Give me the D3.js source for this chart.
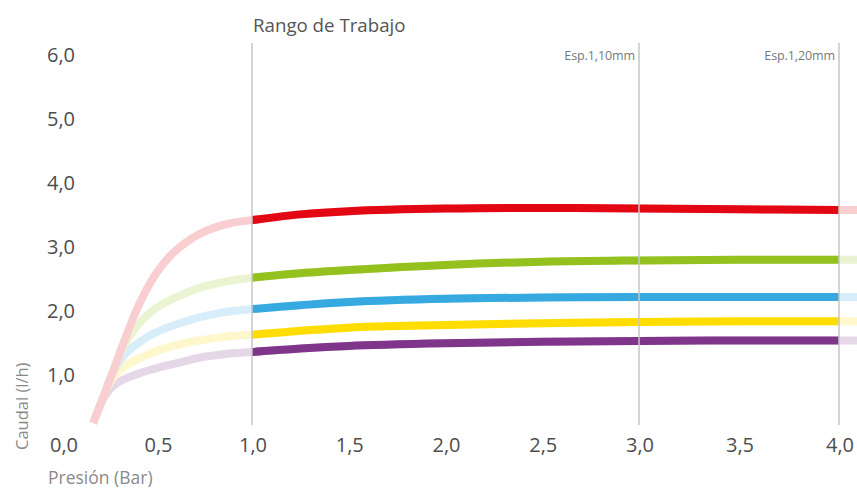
<!DOCTYPE html>
<html><head><meta charset="utf-8">
<script src="https://cdn.jsdelivr.net/npm/d3@7/dist/d3.min.js"></script>
<style>body{margin:0;background:#fff}svg{display:block}text{font-family:"Open Sans",sans-serif}</style>
</head><body><svg id="c" width="857" height="488"></svg>
<script>
const pressure     = [0.16,0.22,0.27,0.32,0.39,0.45,0.51,0.58,0.65,0.72,0.81,0.90,1.00,1.25,1.50,2.00,2.50,3.00,3.50,4.00,4.10];
const redSeries    = [0.25,0.71,1.10,1.50,2.02,2.38,2.66,2.90,3.07,3.20,3.31,3.38,3.42,3.51,3.56,3.60,3.61,3.60,3.59,3.58,3.58];
const greenSeries  = [0.25,0.71,1.10,1.44,1.76,1.95,2.08,2.19,2.28,2.36,2.43,2.48,2.52,2.59,2.64,2.72,2.77,2.79,2.80,2.80,2.80];
const blueSeries   = [0.25,0.71,1.08,1.30,1.48,1.60,1.69,1.77,1.84,1.90,1.96,2.00,2.03,2.09,2.14,2.19,2.21,2.22,2.22,2.22,2.22];
const yellowSeries = [0.25,0.71,0.98,1.12,1.24,1.32,1.39,1.45,1.50,1.54,1.58,1.61,1.63,1.69,1.74,1.78,1.81,1.83,1.84,1.84,1.84];
const purpleSeries = [0.25,0.66,0.84,0.93,1.01,1.07,1.12,1.17,1.22,1.27,1.31,1.34,1.36,1.415,1.455,1.495,1.52,1.53,1.54,1.54,1.54];
const xTicks = [0,0.5,1,1.5,2,2.5,3,3.5,4];
const xTickLabels = ["0,0","0,5","1,0","1,5","2,0","2,5","3,0","3,5","4,0"];
const yTicks = [1,2,3,4,5,6];
const yTickLabels = ["1,0","2,0","3,0","4,0","5,0","6,0"];
const refLines = [1,3,4];
const refLabels = ["Rango de Trabajo","Esp.1,10mm","Esp.1,20mm"];
const workRange = [1,4];

const series = [
  {v: purpleSeries, c: "#7f358a", l: "#e6d7e8"},
  {v: yellowSeries, c: "#ffdd00", l: "#fff7cc"},
  {v: blueSeries,   c: "#36a9e1", l: "#d7edf9"},
  {v: greenSeries,  c: "#95c11f", l: "#eaf3d2"},
  {v: redSeries,    c: "#e30613", l: "#f9ced1"}
];

const svg = d3.select("#c");
const x = d3.scaleLinear().domain([0,1,3,4]).range([63,252,639,839]);
const y = d3.scaleLinear().domain([0,6]).range([439,55]);

const line = d3.line().x((d,i)=>x(pressure[i])).y(d=>y(d)).curve(d3.curveCatmullRom.alpha(0.5));

svg.append("defs").append("clipPath").attr("id","work")
  .append("rect").attr("x",x(workRange[0])).attr("y",0)
  .attr("width",x(workRange[1])-x(workRange[0])).attr("height",488);

const gl = svg.append("g");
series.forEach(s=>{
  gl.append("path").attr("d",line(s.v)).attr("fill","none")
    .attr("stroke",s.l).attr("stroke-width",8).attr("stroke-linecap","butt");
});
const gs = svg.append("g").attr("clip-path","url(#work)");
series.forEach(s=>{
  gs.append("path").attr("d",line(s.v)).attr("fill","none")
    .attr("stroke",s.c).attr("stroke-width",8).attr("stroke-linecap","butt");
});

// reference lines
svg.selectAll("line.ref").data(refLines).enter().append("line")
  .attr("x1",d=>x(d)).attr("x2",d=>x(d)).attr("y1",43).attr("y2",425)
  .attr("stroke","#c6c6c6").attr("stroke-width",1.5);

svg.append("text").attr("x",x(refLines[0])+1).attr("y",32)
  .attr("font-size",18.7).attr("fill","#555").text(refLabels[0]);
[1,2].forEach(i=>{
  svg.append("text").attr("x",x(refLines[i])-4).attr("y",60).attr("text-anchor","end")
    .attr("font-size",12.5).attr("letter-spacing",-0.1).attr("fill","#777").text(refLabels[i]);
});

// y ticks
svg.selectAll("text.yt").data(yTicks).enter().append("text")
  .attr("x",75).attr("y",d=>y(d)+7).attr("text-anchor","end")
  .attr("font-size",20).attr("fill","#4d4d4d").text((d,i)=>yTickLabels[i]);
// x ticks
svg.selectAll("text.xt").data(xTicks).enter().append("text")
  .attr("x",d=>x(d)+1).attr("y",452).attr("text-anchor","middle")
  .attr("font-size",20).attr("fill","#4d4d4d").text((d,i)=>xTickLabels[i]);

svg.append("text").attr("transform","translate(28,450) rotate(-90)")
  .attr("font-size",16.5).attr("fill","#8a8a8a").text("Caudal (l/h)");
svg.append("text").attr("x",48).attr("y",484)
  .attr("font-size",17.5).attr("fill","#8a8a8a").text("Presión (Bar)");
</script></body></html>
